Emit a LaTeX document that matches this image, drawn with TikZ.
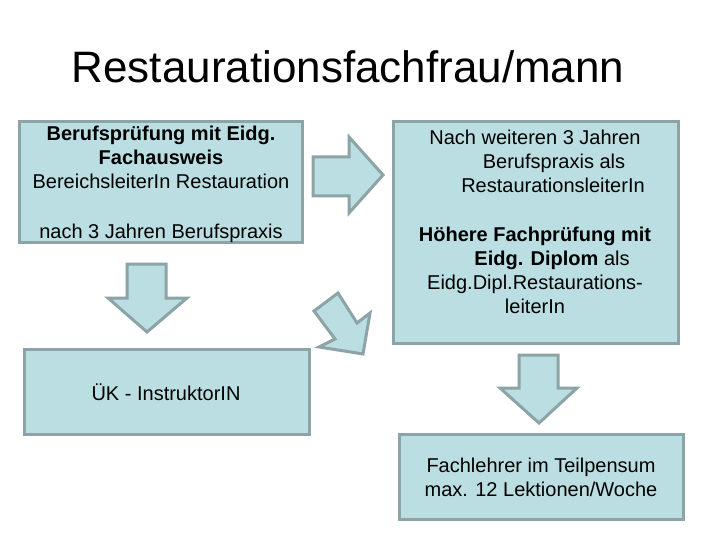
\documentclass[tikz,border=0pt]{standalone}
\usepackage{fontspec}
\setmainfont{Liberation Sans}
\definecolor{boxfill}{RGB}{186,222,226}
\definecolor{boxline}{RGB}{140,164,166}
\begin{document}
\begin{tikzpicture}[x=1pt,y=-1pt,
  panel/.style={draw=boxline,fill=boxfill,line width=3pt},
  blockarrow/.style={draw=boxline,fill=boxfill,line width=3pt,line join=miter},
  txt/.style={anchor=base,inner sep=0pt,font=\fontsize{20}{24}\selectfont}]
\useasboundingbox (0,0) rectangle (720,540);
\fill[white] (0,0) rectangle (720,540);
% title
\node[anchor=base,inner sep=0pt,font=\fontsize{44}{52}\selectfont] (title) at (348,83) {Restaurationsfachfrau/mann};
% boxes
\draw[panel] (19,122) rectangle (302,242);
\coordinate (b1) at (160.5,182);
\draw[panel] (393,122) rectangle (678,343);
\draw[panel] (24,349) rectangle (309,434);
\draw[panel] (399,434) rectangle (683,519);
% box 1 text
\node[txt,font=\fontsize{20}{24}\selectfont\bfseries] (t11) at (161,141) {Berufsprüfung mit Eidg.};
\node[txt,font=\fontsize{20}{24}\selectfont\bfseries] (t12) at (161,165) {Fachausweis};
\node[txt] (t13) at (161,189) {BereichsleiterIn Restauration};
\node[txt] (t14) at (161,238) {nach 3 Jahren Berufspraxis};
% box 2 text
\node[txt] (t21) at (535,145) {Nach weiteren 3 Jahren};
\node[txt] (t22) at (554,169) {Berufspraxis als};
\node[txt] (t23) at (553,193) {RestaurationsleiterIn};
\node[txt,font=\fontsize{20}{24}\selectfont\bfseries] (t24) at (535,241) {Höhere Fachprüfung mit};
\node[txt] (t25) at (552,265) {\textbf{Eidg. Diplom} als};
\node[txt] (t26) at (535,289) {Eidg.Dipl.Restaurations-};
\node[txt] (t27) at (535,313) {leiterIn};
% box 3 text
\node[txt] (t31) at (166,400) {ÜK - InstruktorIN};
% box 4 text
\node[txt] (t41) at (541,472) {Fachlehrer im Teilpensum};
\node[txt] (t42) at (541,496) {max. 12 Lektionen/Woche};
% arrows
\draw[blockarrow] (313,157) -- (349,157) -- (349,137) -- (383,175) -- (349,213) -- (349,196) -- (313,196) -- cycle;
\draw[blockarrow] (127,264) -- (166,264) -- (166,298) -- (187,298) -- (147,332) -- (108,298) -- (127,298) -- cycle;
\draw[blockarrow] (314,311) -- (338,293) -- (357,323) -- (370,313) -- (363,354) -- (319,347) -- (335,339) -- cycle;
\draw[blockarrow] (519,355) -- (558,355) -- (558,388) -- (577,388) -- (539,423) -- (500,388) -- (519,388) -- cycle;
\end{tikzpicture}
\end{document}
